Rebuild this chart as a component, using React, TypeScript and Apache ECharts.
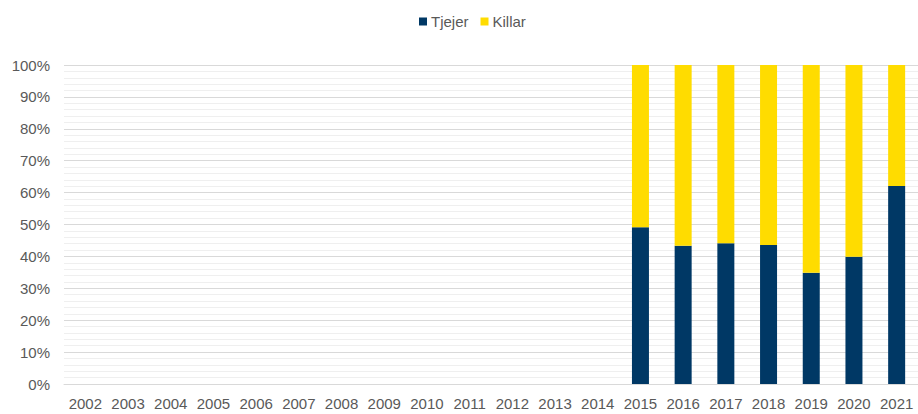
import React, { useEffect, useRef } from "react";
import * as echarts from "echarts";

const years = ["2002","2003","2004","2005","2006","2007","2008","2009","2010","2011","2012","2013","2014","2015","2016","2017","2018","2019","2020","2021"];
const tjejer: (number | null)[] = [null,null,null,null,null,null,null,null,null,null,null,null,null,49.1,43.3,44.1,43.6,34.9,39.9,62.1];
const killar: (number | null)[] = [null,null,null,null,null,null,null,null,null,null,null,null,null,50.9,56.7,55.9,56.4,65.1,60.1,37.9];

export default function App() {
  const ref = useRef<HTMLDivElement>(null);
  useEffect(() => {
    const chart = echarts.init(ref.current!, null, { renderer: "svg" });
    const font = "Liberation Sans, Arial, sans-serif";
    chart.setOption({
      animation: false,
      textStyle: { fontFamily: font },
      legend: {
        top: 9,
        left: 414,
        itemWidth: 8,
        itemHeight: 8,
        itemGap: 12,
        icon: "rect",
        textStyle: { color: "#595959", fontSize: 15, fontFamily: font, padding: [0, 0, 0, -1] },
        data: ["Tjejer", "Killar"],
      },
      grid: { left: 64, right: -1, top: 65, bottom: 30, containLabel: false },
      xAxis: {
        type: "category",
        data: years,
        axisLine: { show: true, lineStyle: { color: "#d9d9d9", width: 1 } },
        axisTick: { show: false },
        axisLabel: { color: "#595959", fontSize: 15, fontFamily: font, margin: 12, interval: 0 },
      },
      yAxis: {
        type: "value",
        min: 0,
        max: 100,
        interval: 10,
        axisLine: { show: false },
        axisTick: { show: false },
        axisLabel: { color: "#595959", fontSize: 15, fontFamily: font, formatter: "{value}%", margin: 14 },
        splitLine: { show: true, lineStyle: { color: "#d9d9d9", width: 1 } },
        minorTick: { show: false, splitNumber: 5 },
        minorSplitLine: { show: true, lineStyle: { color: "#efefef", width: 1 } },
      },
      series: [
        {
          name: "Tjejer",
          type: "bar",
          stack: "a",
          data: tjejer,
          barWidth: 17,
          itemStyle: { color: "#003865" },
        },
        {
          name: "Killar",
          type: "bar",
          stack: "a",
          data: killar,
          barWidth: 17,
          itemStyle: { color: "#FFDC00" },
        },
      ],
    });
    return () => chart.dispose();
  }, []);
  return <div ref={ref} style={{ width: 918, height: 414, position: "absolute", left: 0, top: 0 }} />;
}
